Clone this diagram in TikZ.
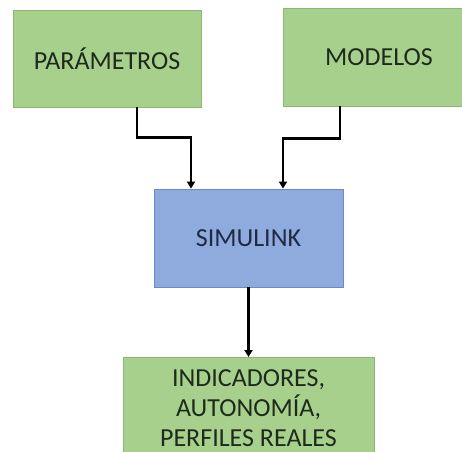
\documentclass[tikz,border=0pt]{standalone}
\usepackage{fontspec}
\setmainfont{Carlito}
\usetikzlibrary{arrows.meta}
\definecolor{gfill}{HTML}{A8D08D}
\definecolor{gline}{HTML}{8DB573}
\definecolor{bfill}{HTML}{8FAADC}
\definecolor{bline}{HTML}{6A8BC8}
\definecolor{gtext}{HTML}{1E2B1C}
\definecolor{btext}{HTML}{1F2A44}
\tikzset{
  greenbox/.style={draw=gline, line width=0.8pt, fill=gfill, text=gtext, minimum width=188pt, minimum height=97pt, inner sep=0pt, font=\fontsize{26}{30}\selectfont},
  bluebox/.style={draw=bline, line width=0.8pt, fill=bfill, text=btext, minimum width=189pt, minimum height=98pt, inner sep=0pt, font=\fontsize{26}{30}\selectfont},
  conn/.style={draw=black, line width=2.6pt, -{Triangle[width=8pt,length=7pt]}},
}
\begin{document}
\begin{tikzpicture}[x=1pt,y=-1pt]
\path[use as bounding box] (0,0) rectangle (462,451);
\fill[white] (0,0) rectangle (462,451);
\clip (0,0) rectangle (462,451);
\node[greenbox] (p) at (107,58.5) {PARÁMETROS};
\node[greenbox, minimum width=192pt, minimum height=98pt] (m) at (379,57) {MODELOS};
\node[bluebox] (s) at (248.5,238) {SIMULINK};
\node[greenbox, minimum width=251pt, anchor=north, align=center, text height=89pt, text depth=20pt, minimum height=0pt] (r) at (248.5,357) {INDICADORES,\\AUTONOMÍA,\\PERFILES REALES};
\draw[conn] ([xshift=30pt]p.south) -- ++(0,30) -| ([xshift=-57.5pt]s.north);
\draw[conn] ([xshift=-39pt]m.south) -- ++(0,32) -| ([xshift=34.5pt]s.north);
\draw[conn] (s.south) -- (r.north);
\end{tikzpicture}
\end{document}
